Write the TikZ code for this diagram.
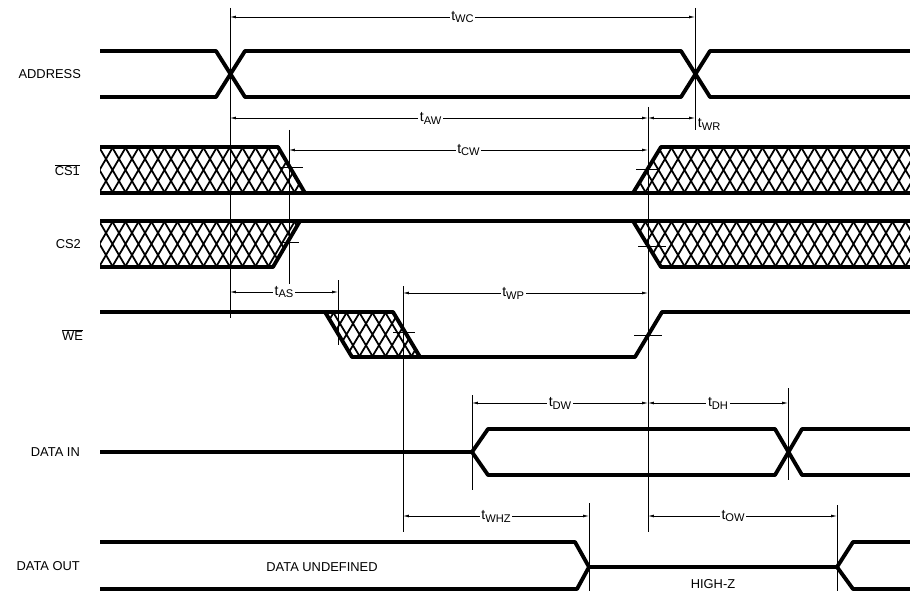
\documentclass[tikz,border=0pt]{standalone}
\usepackage{fontspec}
\setmainfont{Liberation Sans}
\usetikzlibrary{arrows.meta}
\tikzset{
    sig/.style={line width=3.3pt, line join=round},
    ref/.style={line width=0.6pt},
    hatch/.style={line width=1.5pt},
    tick/.style={line width=0.8pt},
    dim/.style={line width=0.6pt,
        {Latex[length=5pt,width=2.4pt]}-{Latex[length=5pt,width=2.4pt]}},
    tlabel/.style={fill=white, inner sep=1.5pt, font=\fontsize{12}{14}\selectfont},
    sname/.style={anchor=east, font=\fontsize{11}{13}\selectfont}
}
%% t with a lowered subscript
\newcommand{\tm}[1]{t\raisebox{-2.5pt}{\fontsize{9.5}{11}\selectfont #1}}
%% cross hatch: #1 clip path, #2 top y, #3 bottom y
\newcommand{\xhatch}[3]{%
    \begin{scope}
        \clip #1;
        \foreach \hx in {60,73,...,930}
            \draw[hatch] (\hx,#2) -- ({\hx+27},#3) ({\hx+27},#2) -- (\hx,#3);
    \end{scope}}

\begin{document}
\begin{tikzpicture}[x=0.03cm, y=-0.03cm]
\useasboundingbox (0,0) rectangle (910,591);

%% signal names
\node[sname] (address) at (85, 74)  {ADDRESS};
\node[sname] (csone)   at (84,170)  {$\overline{\mbox{CS1}}$};
\node[sname] (cstwo)   at (85,244)  {CS2};
\node[sname] (we)      at (87,335)  {$\overline{\mbox{WE}}$};
\node[sname] (datain)  at (84,452)  {DATA IN};
\node[sname] (dataout) at (84,566)  {DATA OUT};

%% hatched (don't care) regions
\xhatch{(100,147) -- (278,147) -- (305,193) -- (100,193) -- cycle}{147}{193}
\xhatch{(661,147) -- (910,147) -- (910,193) -- (633,193) -- cycle}{147}{193}
\xhatch{(100,221) -- (300,221) -- (273,267) -- (100,267) -- cycle}{221}{267}
\xhatch{(633,221) -- (910,221) -- (910,267) -- (661,267) -- cycle}{221}{267}
\xhatch{(325,312) -- (393,312) -- (420,357) -- (352,357) -- cycle}{312}{357}

%% ADDRESS
\draw[sig] (100,51) -- (216,51) -- (245,97) -- (681,97) -- (710,51) -- (910,51);
\draw[sig] (100,97) -- (216,97) -- (245,51) -- (681,51) -- (710,97) -- (910,97);

%% CS1
\draw[sig] (100,193) -- (910,193);
\draw[sig] (100,147) -- (278,147) -- (305,193);
\draw[sig] (633,193) -- (661,147) -- (910,147);

%% CS2
\draw[sig] (100,221) -- (910,221);
\draw[sig] (100,267) -- (273,267) -- (300,221);
\draw[sig] (633,221) -- (661,267) -- (910,267);

%% WE
\draw[sig] (100,312) -- (325,312) -- (352,357) -- (635,357) -- (662,312) -- (910,312);
\draw[sig] (325,312) -- (393,312) -- (420,357) -- (352,357);

%% DATA IN
\draw[sig] (100,452) -- (472,452) -- (488,429) -- (775,429) -- (802,475) -- (910,475);
\draw[sig] (472,452) -- (488,475) -- (775,475) -- (802,429) -- (910,429);

%% DATA OUT
\draw[sig] (100,542) -- (575,542) -- (589,567) -- (577,589) -- (100,589);
\draw[sig] (589,567) -- (837,567) -- (853,542) -- (910,542);
\draw[sig] (837,567) -- (853,589) -- (910,589);
\node[sname, anchor=center] (undef) at (322,567) {DATA UNDEFINED};
\node[sname, anchor=center] (highz) at (713,584) {HIGH-Z};

%% reference lines
\draw[ref] (230,8)   -- (230,318);
\draw[ref] (695,8)   -- (695,130);
\draw[ref] (648,107) -- (648,532);
\draw[ref] (289,130) -- (289,288);
\draw[ref] (338,280) -- (338,345);
\draw[ref] (403,286) -- (403,532);
\draw[ref] (472,395) -- (472,490);
\draw[ref] (788,388) -- (788,480);
\draw[ref] (589,503) -- (589,591);
\draw[ref] (837,505) -- (837,591);

%% ticks at the edges
\draw[tick] (279,167) -- (303,167);
\draw[tick] (280,242) -- (299,242);
\draw[tick] (636,169) -- (660,169);
\draw[tick] (638,246) -- (666,246);
\draw[tick] (393,332) -- (415,332);
\draw[tick] (634,335) -- (662,335);

%% timing arrows
\draw[dim] (230,17)  -- (695,17)  node[tlabel, midway] (twc) {\tm{WC}};
\draw[dim] (230,118) -- (648,118) node[tlabel, pos=0.48] (taw) {\tm{AW}};
\draw[dim] (648,118) -- (695,118);
\node[tlabel, fill=none, anchor=west] (twr) at (696,124) {\tm{WR}};
\draw[dim] (289,150) -- (648,150) node[tlabel, midway] (tcw) {\tm{CW}};
\draw[dim] (230,292) -- (338,292) node[tlabel, midway] (tas) {\tm{AS}};
\draw[dim] (403,293) -- (648,293) node[tlabel, pos=0.45] (twp) {\tm{WP}};
\draw[dim] (472,403) -- (648,403) node[tlabel, midway] (tdw) {\tm{DW}};
\draw[dim] (648,403) -- (788,403) node[tlabel, midway] (tdh) {\tm{DH}};
\draw[dim] (403,516) -- (589,516) node[tlabel, midway] (twhz) {\tm{WHZ}};
\draw[dim] (648,516) -- (837,516) node[tlabel, pos=0.45] (tow) {\tm{OW}};

\end{tikzpicture}
\end{document}
